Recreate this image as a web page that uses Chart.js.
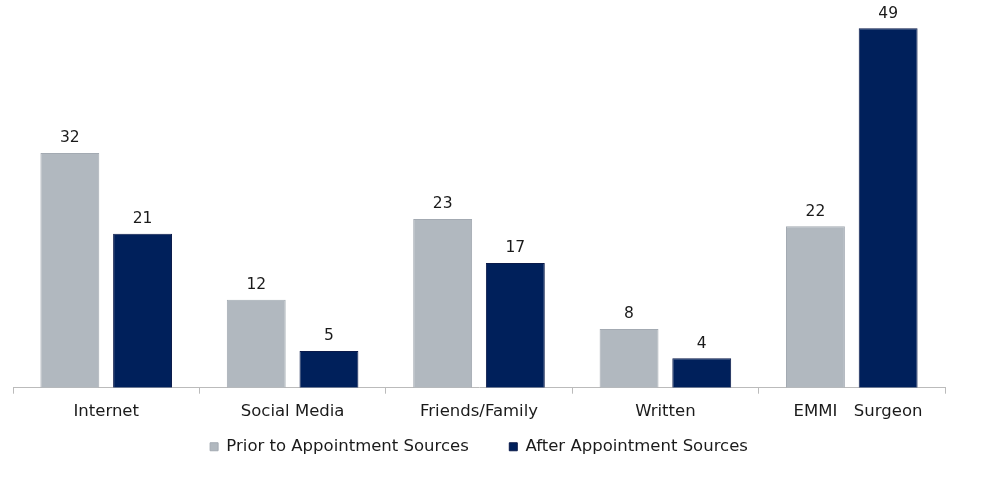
<!DOCTYPE html>
<html>
<head>
<meta charset="utf-8">
<script src="https://cdn.jsdelivr.net/npm/chart.js@4/dist/chart.umd.min.js"></script>
<style>
  html, body { margin: 0; padding: 0; background: #fff; }
  #wrap { width: 986px; height: 487px; }
</style>
</head>
<body>
<div id="wrap"><canvas id="myChart"></canvas></div>
<script>
const categorias = ['Internet', 'Social Media', 'Friends/Family', 'Written', 'EMMI / Surgeon'];
// the last group has one label under each bar instead of one under the group
const etiquetasUltimoGrupo = ['EMMI', 'Surgeon'];
const antesCita = [32, 12, 23, 8, 22];
const despuesCita = [21, 5, 17, 4, 49];

const fuente = "'DejaVu Sans', sans-serif";
const gris = '#B1B8BF';
const azul = '#00205B';

const etiquetasValor = {
  id: 'etiquetasValor',
  afterDatasetsDraw(chart) {
    const ctx = chart.ctx;
    ctx.save();
    ctx.fillStyle = '#1a1a1a';
    ctx.font = '15.5px ' + fuente;
    ctx.textAlign = 'center';
    ctx.textBaseline = 'bottom';
    chart.data.datasets.forEach((ds, i) => {
      chart.getDatasetMeta(i).data.forEach((bar, j) => {
        ctx.fillText(ds.data[j], bar.x, bar.y - 7);
      });
    });
    // split labels for the last category
    const ultimo = categorias.length - 1;
    ctx.font = '16.5px ' + fuente;
    ctx.textBaseline = 'middle';
    etiquetasUltimoGrupo.forEach((txt, i) => {
      const bar = chart.getDatasetMeta(i).data[ultimo];
      ctx.fillText(txt, bar.x, chart.chartArea.bottom + 24);
    });
    ctx.restore();
  }
};

const config = {
  type: 'bar',
  data: {
    labels: categorias,
    datasets: [
      {
        label: 'Prior to Appointment Sources',
        data: antesCita,
        backgroundColor: gris,
        borderColor: '#A3AAB2',
        borderWidth: 1,
        categoryPercentage: 0.78,
        barPercentage: 0.81
      },
      {
        label: 'After Appointment Sources',
        data: despuesCita,
        backgroundColor: azul,
        borderColor: '#0A1A4A',
        borderWidth: 1,
        categoryPercentage: 0.78,
        barPercentage: 0.81
      }
    ]
  },
  options: {
    responsive: true,
    maintainAspectRatio: false,
    animation: false,
    layout: { padding: { top: 21, left: 13, right: 41, bottom: 22 } },
    plugins: {
      tooltip: { enabled: false },
      legend: {
        position: 'bottom',
        labels: {
          color: '#1a1a1a',
          font: { family: fuente, size: 16.5 },
          boxWidth: 8,
          boxHeight: 8,
          padding: 9,
          generateLabels: function(chart) {
            const items = Chart.defaults.plugins.legend.labels.generateLabels(chart);
            // extra room between the two legend entries
            items[0].text = items[0].text + '      ';
            return items;
          }
        }
      }
    },
    scales: {
      x: {
        grid: {
          drawOnChartArea: false,
          tickLength: 6,
          color: '#BBBBBB'
        },
        border: { display: true, color: '#BBBBBB', width: 1 },
        ticks: {
          color: '#1a1a1a',
          font: { family: fuente, size: 16.5 },
          padding: 8,
          callback: function(valor, indice) {
            return indice === categorias.length - 1 ? '' : categorias[indice];
          }
        }
      },
      y: {
        display: false,
        min: 0,
        max: 50
      }
    }
  },
  plugins: [etiquetasValor]
};

new Chart(document.getElementById('myChart'), config);
</script>
</body>
</html>
